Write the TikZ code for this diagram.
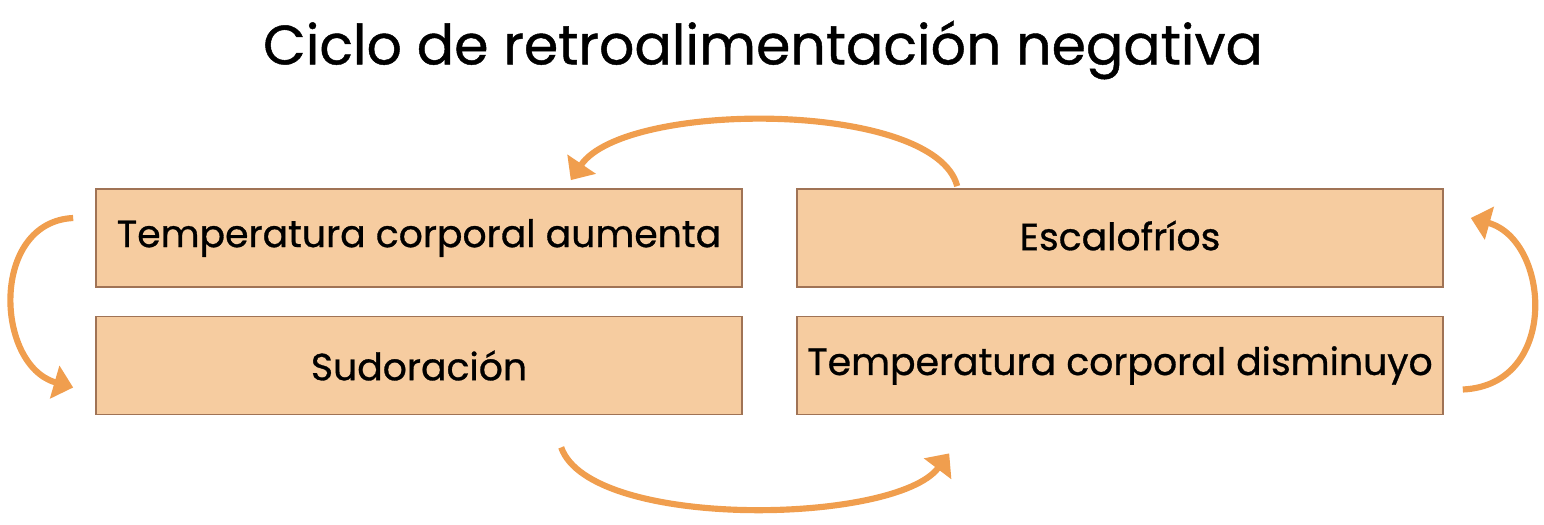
\documentclass[tikz,border=0pt]{standalone}
\usepackage{fontspec}
\setmainfont{Poppins}
\usepackage{tikz}
\usetikzlibrary{calc}
\usetikzlibrary{arrows.meta}
\definecolor{boxfill}{RGB}{246,204,160}
\definecolor{boxline}{RGB}{160,115,85}
\definecolor{loop}{RGB}{240,158,78}
\tikzset{caja/.style = {draw=boxline, line width=1pt, fill=boxfill, minimum width=12.92cm, minimum height=1.96cm, inner sep=0pt, font=\fontsize{21.5}{24}\selectfont\addfontfeatures{FakeBold=0.8}}}
\tikzset{flecha/.style = {draw=loop, line width=3.5pt, -{Triangle[width=19pt,length=11pt]}}}

\begin{document}
\begin{tikzpicture}[x=0.02cm, y=-0.02cm]

\useasboundingbox (0,0) rectangle (1544,524);

\node (titulo) at (763, 50) {\fontsize{31.5}{36}\selectfont\addfontfeatures{FakeBold=0.8} Ciclo de retroalimentación negativa};

\node[caja] (aumenta) at (419, 238) {\raisebox{-3pt}{Temperatura corporal aumenta}};
\node[caja] (sudor) at (419, 365.5) {Sudoración};
\node[caja] (escalo) at (1120, 238) {\raisebox{3pt}{Escalofríos}};
\node[caja] (disminuye) at (1120, 365.5) {Temperatura corporal disminuyo};

\coordinate (a1) at ($(escalo.north west)+(161,-2)$);
\coordinate (a2) at ($(aumenta.north east)+(-172,-8)$);
\coordinate (b1) at ($(aumenta.west)+(-22,-20)$);
\coordinate (b2) at ($(sudor.west)+(-22,22)$);
\coordinate (c1) at ($(sudor.south west)+(466,32)$);
\coordinate (c2) at ($(disminuye.south west)+(153,38)$);
\coordinate (d1) at ($(disminuye.east)+(19,24)$);
\coordinate (d2) at ($(escalo.east)+(27,-20)$);

\draw[flecha] (a1) .. controls (935,100) and (625,100) .. (a2);
\draw[flecha] (b1) .. controls (-10,222) and (-5,365) .. (b2);
\draw[flecha] (c1) .. controls (590,530) and (895,525) .. (c2);
\draw[flecha] (d1) .. controls (1560,385) and (1550,240) .. (d2);
\end{tikzpicture}
\end{document}
